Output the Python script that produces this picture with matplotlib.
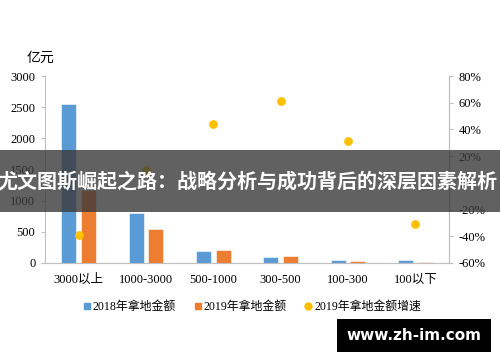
import matplotlib
matplotlib.use('Agg')
import matplotlib.pyplot as plt
from matplotlib.lines import Line2D
import numpy as np

plt.rcParams['font.family'] = ['Liberation Serif', 'Noto Sans CJK SC', 'DejaVu Sans']

# data
categories = ['3000以上', '1000-3000', '500-1000', '300-500', '100-300', '100以下']
land_2018 = [2550, 800, 195, 100, 50, 50]
land_2019 = [1175, 540, 215, 110, 32, 22]
growth_2019 = [-39, 10, 44, 61, 31, -31]

left_ticks = [0, 500, 1000, 1500, 2000, 2500, 3000]
right_ticks = [-60, -40, -20, 0, 20, 40, 60, 80]

c_blue = '#5B9BD5'
c_orange = '#ED7D31'
c_yellow = '#FFC000'
c_axis = '#BFBFBF'

fig = plt.figure(figsize=(5, 3.62), dpi=100)
ax = fig.add_axes([0.09, 0.2735, 0.808, 0.5165])

x = np.arange(len(categories))
w = 0.22
ax.bar(x - 0.145, land_2018, w, color=c_blue, edgecolor='white', linewidth=0.4)
ax.bar(x + 0.145, land_2019, w, color=c_orange, edgecolor='white', linewidth=0.4)
ax.set_xlim(-0.5, len(categories) - 0.5)
ax.set_ylim(0, 3000)
ax.set_yticks(left_ticks)
ax.set_xticks(x)
ax.set_xticklabels(categories, fontsize=9)
ax.tick_params(axis='y', labelsize=9, color=c_axis, length=3, pad=4)
ax.tick_params(axis='x', length=0, pad=8)
ax.spines['top'].set_visible(False)
for s in ['left', 'bottom', 'right']:
    ax.spines[s].set_color(c_axis)
fig.text(0.054, 0.84, '亿元', ha='left', va='center', fontsize=10)

ax2 = ax.twinx()
ax2.scatter(x, growth_2019, s=28, color=c_yellow, zorder=3)
ax2.set_ylim(-60, 80)
ax2.set_yticks(right_ticks)
ax2.set_yticklabels([f'{t}%' for t in right_ticks])
ax2.tick_params(axis='y', labelsize=9, color=c_axis, length=3, pad=4)
for s in ['top', 'left', 'bottom']:
    ax2.spines[s].set_visible(False)
ax2.spines['right'].set_color(c_axis)

handles = [
    Line2D([], [], marker='s', color=c_blue, linestyle='none', markersize=5),
    Line2D([], [], marker='s', color=c_orange, linestyle='none', markersize=5),
    Line2D([], [], marker='o', color=c_yellow, linestyle='none', markersize=5),
]
labels = ['2018年拿地金额', '2019年拿地金额', '2019年拿地金额增速']
fig.legend(handles, labels, loc='center', bbox_to_anchor=(0.503, 0.152), ncol=3,
           frameon=False, fontsize=8.6, handletextpad=0.1, columnspacing=1.4, handlelength=0.8)

# overlay banner
fig.patches.append(plt.Rectangle((0, 0.414), 1, 0.171, transform=fig.transFigure,
                                 facecolor='#3a3a3a', alpha=0.8, zorder=10))
fig.text(0.494, 0.5, '尤文图斯崛起之路：战略分析与成功背后的深层因素解析', color='white',
         fontsize=14.4, fontweight='bold', ha='center', va='center',
         family=['Noto Sans CJK SC'], zorder=11)

# watermark
fig.patches.append(plt.Rectangle((0.674, 0.028), 0.308, 0.091, transform=fig.transFigure,
                                 facecolor='black', zorder=10))
fig.text(0.828, 0.0735, 'www.zh-im.com', color='white', fontsize=11, fontweight='bold',
         ha='center', va='center', family=['DejaVu Sans'], zorder=11)

fig.savefig('out.png', dpi=100)
